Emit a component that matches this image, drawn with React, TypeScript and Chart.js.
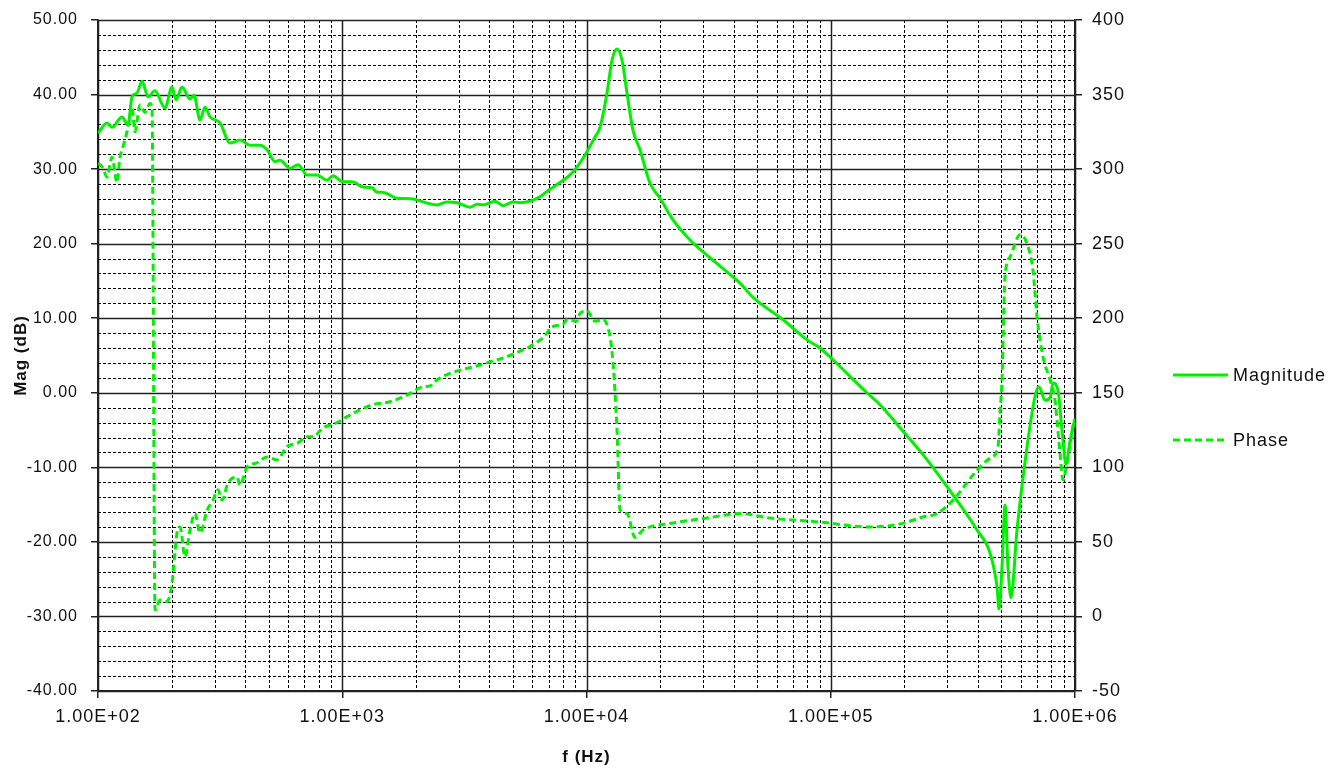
import React, { useEffect, useRef } from "react";
import { Chart, registerables } from "chart.js";

Chart.register(...registerables);

// Magnitude trace (frequency in Hz, magnitude in dB)
const magFreq = [
  100, 108.8, 114.1, 125.4, 132.7, 137.8, 144.4, 151.4, 160.2, 171, 188, 200.9, 208.6, 220.8, 238.1,
  247.2, 261.6, 274.3, 287.4, 315.9, 347.1, 381.4, 419.1, 460.5, 491.9, 530.5, 556.1, 611.1, 659.1,
  717.1, 788.1, 866.1, 916.7, 1007, 1096, 1216, 1324, 1388, 1455, 1676, 1949, 2141, 2443, 2685, 2950,
  3334, 3562, 3770, 4221, 4552, 5003, 5343, 5870, 6450, 7089, 7788, 8806, 9860, 10834, 11358, 12132,
  12718, 13333, 13976, 14650, 15500, 16558, 18197, 19997, 22600, 26530, 29990, 35210, 42500, 48050,
  63760, 79940, 90360, 99300, 140700, 159100, 192100, 238600, 299200, 397000, 448800, 479300, 488500,
  502500, 516900, 531700, 547000, 578800, 636000, 686000, 712000, 754000, 790000, 813000, 852000,
  885000, 919000, 954000, 990600, 1000000,
];
const magValues = [
  34.8, 36.2, 35.6, 37.0, 35.9, 39.7, 40.2, 41.8, 39.7, 40.5, 38.2, 41.0, 39.3, 41.0, 39.4,
  39.9, 36.6, 38.3, 37.0, 36.2, 33.5, 33.9, 33.2, 33.2, 32.6, 31.0, 31.2, 30.1, 30.6,
  29.2, 29.2, 28.5, 29.1, 28.3, 28.3, 27.6, 27.5, 26.9, 26.9, 26.1, 26.0, 25.6, 25.2, 25.6, 25.5,
  24.9, 25.3, 25.2, 25.7, 25.1, 25.6, 25.5, 25.7, 26.3, 27.3, 28.2, 29.6, 31.9, 34.3, 35.6, 40.2,
  44.6, 46.1, 44.6, 40.2, 35.2, 32.6, 28.1, 26.1, 23.2, 20.5, 18.9, 17.0, 14.7, 12.8,
  9.8, 7.1, 6.0, 4.8, 0.0, -1.6, -4.7, -8.3, -12.6, -18.4, -21.5, -26.0, -29.0,
  -23.4, -15.1, -23.4, -27.5, -18.4, -7.3, -0.5, 0.8, -1.0, -0.7, 1.3, 0.3,
  -5.0, -9.6, -6.5, -4.0, -3.5,
];

// Phase trace (frequency in Hz, phase in degrees)
const phaseFreq = [
  100, 104.8, 108.8, 114.1, 119.6, 123.0, 126.6, 132.7, 137.8, 141.7, 148.6, 155.7, 163.3, 166.4,
  171.2, 179.4, 191.7, 200.9, 210.6, 216.7, 227.1, 238.1, 249.6, 261.6, 279.5, 295.6, 309.9, 321.9,
  340.6, 370.8, 381.4, 407.4, 447.7, 491.9, 540.6, 594.1, 652.8, 717.1, 759.0, 834.1, 951.7, 1046,
  1182, 1336, 1569, 1842, 2141, 2287, 2443, 2762, 3664, 4026, 4552, 5496, 5870, 6891, 7089, 8014,
  8322, 9143, 9231, 10047, 10834, 11684, 12480, 12839, 13333, 13716, 14650, 15796, 17034, 22600,
  31140, 42500, 56400, 90360, 144800, 192100, 238600, 272300, 316600, 397000, 448800, 483900,
  493100, 502500, 516900, 541800, 595400, 636000, 673000, 699000, 740000, 790000, 828000, 868000,
  893000, 927000, 972000, 990600,
];
const phaseValues = [
  304, 300.7, 294.7, 308, 291, 308, 315, 328, 341.7, 325, 343, 338, 344, 340,
  4.3, 11, 10, 22.5, 56, 60, 40, 58, 69, 56, 71, 78, 85, 78,
  89.5, 93.5, 88, 100, 103, 107, 105, 114, 116, 120.5, 120.5, 126.4, 130, 134,
  138.5, 142, 144, 148.5, 154, 154.5, 158.6, 163, 168.6, 170.7, 173.3, 178.7, 181, 190, 193.5, 196,
  199, 198, 201, 205, 198, 199, 187.6, 170, 125, 71.4, 69, 53, 58, 62.7,
  66, 69, 66, 63.3, 60, 62, 66.7, 69, 78, 98, 106, 114,
  136.5, 158.6, 227.7, 241, 256, 250, 232, 201, 174, 158.6, 145, 109.6,
  91.5, 103, 123, 132,
];

const decadeTicks = [100, 1000, 10000, 100000, 1000000];
const magTickStep = 10;
const magMinorStep = 2;
const seriesNames = ["Magnitude", "Phase"];

const FONT = "'Liberation Sans', Arial, sans-serif";
const GREEN = "#00f000";
const INK = "#111111";

const gridPlugin = {
  id: "bodeGrid",
  beforeDraw(chart: any) {
    try {
      chart.ctx.letterSpacing = "1px";
    } catch (e) {}
  },
  beforeDatasetsDraw(chart: any) {
    const { ctx, chartArea } = chart;
    const xs = chart.scales.x;
    const ys = chart.scales.y;
    const { left, right, top, bottom } = chartArea;
    ctx.save();
    // vertical lines
    for (let i = 0; i < decadeTicks.length; i++) {
      const d = decadeTicks[i];
      for (let m = 1; m <= 9; m++) {
        const v = d * m;
        if (v > xs.max) break;
        const px = Math.round(xs.getPixelForValue(v)) + 0.5;
        ctx.beginPath();
        if (m === 1) {
          ctx.setLineDash([]);
          ctx.lineWidth = 1.5;
          ctx.strokeStyle = "#222";
        } else {
          ctx.setLineDash([3, 2]);
          ctx.lineWidth = 1;
          ctx.strokeStyle = "#000";
        }
        ctx.moveTo(px, top);
        ctx.lineTo(px, bottom);
        ctx.stroke();
      }
    }
    // horizontal lines
    for (let v = ys.min; v <= ys.max + 1e-9; v += magMinorStep) {
      const py = Math.round(ys.getPixelForValue(v)) + 0.5;
      const major = Math.abs(Math.round(v) % magTickStep) === 0;
      ctx.beginPath();
      if (major) {
        ctx.setLineDash([]);
        ctx.lineWidth = 1.5;
        ctx.strokeStyle = "#222";
      } else {
        ctx.setLineDash([3, 2]);
        ctx.lineWidth = 1;
        ctx.strokeStyle = "#000";
      }
      ctx.moveTo(left, py);
      ctx.lineTo(right, py);
      ctx.stroke();
    }
    ctx.restore();
  },
  afterDraw(chart: any) {
    const { ctx, chartArea } = chart;
    const x0 = chartArea.right + 98;
    const items = [
      { name: seriesNames[0], y: 375, dash: [] as number[] },
      { name: seriesNames[1], y: 440, dash: [7, 4] },
    ];
    ctx.save();
    items.forEach((it) => {
      ctx.beginPath();
      ctx.setLineDash(it.dash);
      ctx.strokeStyle = GREEN;
      ctx.lineWidth = 3;
      ctx.moveTo(x0, it.y);
      ctx.lineTo(x0 + 55, it.y);
      ctx.stroke();
      ctx.setLineDash([]);
      ctx.fillStyle = INK;
      ctx.font = `18px ${FONT}`;
      ctx.textBaseline = "middle";
      ctx.textAlign = "left";
      ctx.fillText(it.name, x0 + 60, it.y + 1);
    });
    ctx.restore();
  },
};

function fmtExp(v: number) {
  const s = Number(v).toExponential(2).toUpperCase();
  return s.replace(/E([+-])(\d)$/, "E$10$2");
}

function fixVertical(width: number) {
  return (scale: any) => {
    scale.width = width;
    scale.paddingTop = 0;
    scale.paddingBottom = 0;
  };
}

export default function App() {
  const ref = useRef<HTMLCanvasElement | null>(null);

  useEffect(() => {
    if (!ref.current) return;
    const magData = magFreq.map((f, i) => ({ x: f, y: magValues[i] }));
    const phaseData = phaseFreq.map((f, i) => ({ x: f, y: phaseValues[i] }));
    const chart = new Chart(ref.current, {
      type: "line",
      data: {
        datasets: [
          {
            label: seriesNames[0],
            data: magData,
            yAxisID: "y",
            borderColor: GREEN,
            borderWidth: 3,
            pointRadius: 0,
            cubicInterpolationMode: "monotone",
            fill: false,
          },
          {
            label: seriesNames[1],
            data: phaseData,
            yAxisID: "y1",
            borderColor: GREEN,
            borderWidth: 3,
            borderDash: [7, 4],
            pointRadius: 0,
            cubicInterpolationMode: "monotone",
            fill: false,
          },
        ],
      },
      options: {
        animation: false,
        responsive: true,
        maintainAspectRatio: false,
        layout: { padding: { top: 20, left: 0, right: 207, bottom: 0 } },
        plugins: {
          legend: { display: false },
          tooltip: { enabled: false },
        },
        scales: {
          x: {
            type: "logarithmic",
            min: 100,
            max: 1000000,
            afterBuildTicks: (scale: any) => {
              scale.ticks = decadeTicks.map((v) => ({ value: v }));
            },
            afterFit: (scale: any) => {
              scale.height = 77;
              scale.paddingLeft = 0;
              scale.paddingRight = 0;
            },
            ticks: {
              autoSkip: false,
              maxRotation: 0,
              color: INK,
              padding: 8,
              font: { family: FONT, size: 18 },
              callback: (v: any) => fmtExp(Number(v)),
            },
            grid: { drawOnChartArea: false, drawTicks: true, tickLength: 7, color: "#222", lineWidth: 1.5 },
            border: { display: true, color: "#222", width: 1.5 },
            title: {
              display: true,
              text: "f (Hz)",
              color: INK,
              font: { family: FONT, size: 17, weight: "bold" },
              padding: { top: 0, bottom: 0 },
            },
          },
          y: {
            type: "linear",
            position: "left",
            min: -40,
            max: 50,
            afterFit: fixVertical(98),
            ticks: {
              stepSize: magTickStep,
              color: INK,
              padding: 13,
              font: { family: FONT, size: 16 },
              callback: (v: any) => Number(v).toFixed(2),
            },
            grid: { drawOnChartArea: false, drawTicks: true, tickLength: 7, color: "#222", lineWidth: 1.5 },
            border: { display: true, color: "#222", width: 1.5 },
            title: {
              display: true,
              text: "Mag (dB)",
              color: INK,
              font: { family: FONT, size: 17, weight: "bold" },
              padding: { top: 11, bottom: 0 },
            },
          },
          y1: {
            type: "linear",
            position: "right",
            min: -50,
            max: 400,
            afterFit: fixVertical(60),
            ticks: {
              stepSize: 50,
              color: INK,
              padding: 10,
              font: { family: FONT, size: 18 },
            },
            grid: { drawOnChartArea: false, drawTicks: true, tickLength: 7, color: "#222", lineWidth: 1.5 },
            border: { display: true, color: "#222", width: 1.5 },
          },
        },
      },
      plugins: [gridPlugin],
    } as any);
    return () => chart.destroy();
  }, []);

  return (
    <div style={{ position: "fixed", left: 0, top: 0, width: 1342, height: 768, background: "#fff" }}>
      <canvas ref={ref} />
    </div>
  );
}
